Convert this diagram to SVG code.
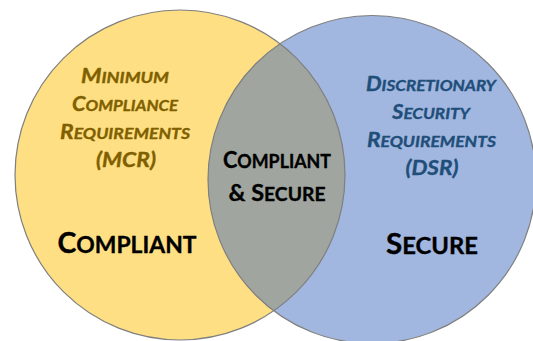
<svg xmlns="http://www.w3.org/2000/svg" width="533" height="341" viewBox="0 0 533 341">
<style>
.outline{fill:none;stroke:#7f7f7f;stroke-width:1.2}
.t{font-family:Lato,"Open Sans","Liberation Sans",sans-serif;font-weight:bold;text-anchor:middle;stroke-width:0.35;stroke-linejoin:round}
.req{font-style:italic}
.mcr{fill:#7f6000;stroke:#7f6000}
.dsr{fill:#1f4e79;stroke:#1f4e79}
.blk{fill:#000000;stroke:#000000}
</style>
<defs>
<clipPath id="clipLeft"><circle cx="180" cy="175" r="165"/></clipPath>
</defs>
<rect width="533" height="341" fill="#ffffff"/>
<g id="node-compliant">
<circle cx="180" cy="175" r="165" fill="#ffdf83"/>
<text class="t req mcr" x="125" y="83" font-size="20" textLength="88" lengthAdjust="spacingAndGlyphs">M<tspan font-size="15.5">INIMUM</tspan></text>
<text class="t req mcr" x="125" y="111" font-size="20" textLength="106" lengthAdjust="spacingAndGlyphs">C<tspan font-size="15.5">OMPLIANCE</tspan></text>
<text class="t req mcr" x="125" y="139" font-size="20" textLength="130" lengthAdjust="spacingAndGlyphs">R<tspan font-size="15.5">EQUIREMENTS</tspan></text>
<text class="t req mcr" x="126" y="167" font-size="20.5" textLength="60" lengthAdjust="spacingAndGlyphs">(MCR)</text>
<text class="t blk" x="127" y="253" font-size="28" textLength="139" lengthAdjust="spacingAndGlyphs">C<tspan font-size="22.5">OMPLIANT</tspan></text>
</g>
<g id="node-secure">
<circle cx="372" cy="179.5" r="164" fill="#a1b7e0"/>
<text class="t req dsr" x="431" y="91" font-size="20" textLength="130" lengthAdjust="spacingAndGlyphs">D<tspan font-size="15.5">ISCRETIONARY</tspan></text>
<text class="t req dsr" x="431" y="119" font-size="20" textLength="78" lengthAdjust="spacingAndGlyphs">S<tspan font-size="15.5">ECURITY</tspan></text>
<text class="t req dsr" x="431.5" y="147" font-size="20" textLength="129" lengthAdjust="spacingAndGlyphs">R<tspan font-size="15.5">EQUIREMENTS</tspan></text>
<text class="t req dsr" x="432" y="175" font-size="20.5" textLength="53" lengthAdjust="spacingAndGlyphs">(DSR)</text>
<text class="t blk" x="432" y="254" font-size="28" textLength="92" lengthAdjust="spacingAndGlyphs">S<tspan font-size="22.5">ECURE</tspan></text>
</g>
<g id="node-compliant-secure">
<circle cx="372" cy="179.5" r="164" fill="#a0a69f" clip-path="url(#clipLeft)"/>
<circle class="outline" cx="180" cy="175" r="165"/>
<circle class="outline" cx="372" cy="179.5" r="164"/>
<text class="t blk" x="277" y="168" font-size="22.5" textLength="108" lengthAdjust="spacingAndGlyphs">C<tspan font-size="18.5">OMPLIANT</tspan></text>
<text class="t blk" x="277" y="201" font-size="22.5" textLength="97" lengthAdjust="spacingAndGlyphs">&amp; S<tspan font-size="18.5">ECURE</tspan></text>
</g>
<g id="connectors"/>
</svg>
